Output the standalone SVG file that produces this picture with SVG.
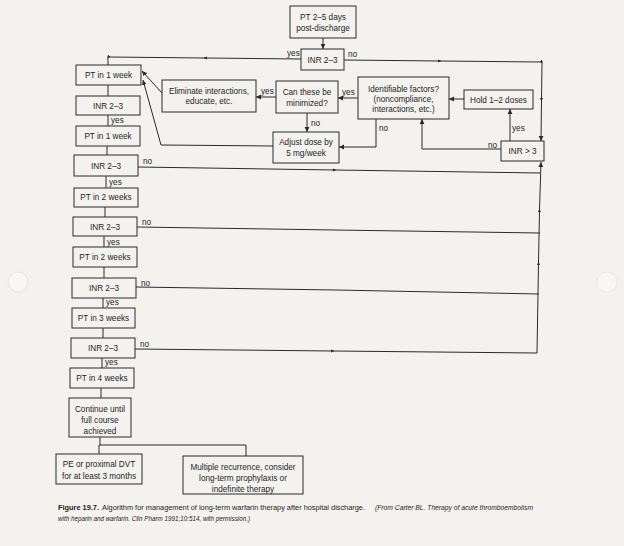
<svg xmlns="http://www.w3.org/2000/svg" width="624" height="546" viewBox="0 0 624 546">
<defs>
<marker id="ah" markerWidth="6" markerHeight="6" refX="5" refY="3" orient="auto" markerUnits="userSpaceOnUse"><path d="M0,0.6 L5,3 L0,5.4 z" fill="#2a2a2a"/></marker>
<marker id="mid" markerWidth="4" markerHeight="4" refX="2" refY="2" orient="auto" markerUnits="userSpaceOnUse"><path d="M0,0.5 L3.5,2 L0,3.5 z" fill="#2a2a2a"/></marker>
<style>
.b{fill:#f3f2ef;stroke:#2a2a2a;stroke-width:1}
.t{font-family:"Liberation Sans",Arial,sans-serif;font-size:8.2px;fill:#1e1e1e;text-anchor:middle}
.l{font-family:"Liberation Sans",Arial,sans-serif;font-size:8.2px;fill:#1e1e1e}
.c{fill:none;stroke:#2a2a2a;stroke-width:1}
.a{marker-end:url(#ah)}
.m{marker-mid:url(#mid)}
.cap{font-family:"Liberation Sans",Arial,sans-serif;font-size:6.4px;fill:#222}
</style>
</defs>
<rect width="624" height="546" fill="#f3f2ef"/>
<circle cx="18" cy="282" r="10" fill="#f8f7f5" stroke="#e2dfdc" stroke-width="0.8"/>
<circle cx="607" cy="282" r="10" fill="#f8f7f5" stroke="#e6e3e0" stroke-width="0.8"/>

<g id="connectors">
<path class="c a" d="M323,38 V49"/>
<path class="c m" d="M301,59 L205,58 L108,57 V65"/>
<path class="c a m" d="M344,60 L440,61 L542,62 L541.5,100 L541,141"/>
<path class="c" d="M108,85 V96"/>
<path class="c" d="M108,115 V126"/>
<path class="c" d="M107,146 V155"/>
<path class="c m" d="M138,167 L335,170 L540,173"/>
<path class="c" d="M106,176 V188"/>
<path class="c" d="M105,207 V217"/>
<path class="c" d="M137,227 L335,230 L540,233"/>
<path class="c" d="M104,236 V247"/>
<path class="c" d="M104,267 V278"/>
<path class="c" d="M136,287 L335,290 L539,294"/>
<path class="c" d="M103,298 V308"/>
<path class="c" d="M103,328 V338"/>
<path class="c m" d="M135,349 L333,351 L537,353"/>
<path class="c a m" d="M537,353 L538.5,263 L539.5,210 L541,162"/>
<path class="c" d="M102,358 V368"/>
<path class="c" d="M101,388 V398"/>
<path class="c" d="M100,437 V445 M99,445 H246 M99,445 V454 M246,445 V456"/>
<path class="c a" d="M162,93 L142,71"/>
<path class="c a" d="M273,146 L161,145 L143,80"/>
<path class="c a" d="M276,97 H256"/>
<path class="c a" d="M358,98 H338"/>
<path class="c a" d="M307,113 V132"/>
<path class="c a" d="M376,119 V147 H339"/>
<path class="c a" d="M464,99 H449"/>
<path class="c a" d="M510,141 V109"/>
<path class="c a" d="M501,149 H422 V119"/>
<text class="l" x="287" y="56">yes</text>
<text class="l" x="348" y="57">no</text>
<text class="l" x="111" y="123">yes</text>
<text class="l" x="143" y="164">no</text>
<text class="l" x="109" y="185">yes</text>
<text class="l" x="142" y="225">no</text>
<text class="l" x="107" y="245">yes</text>
<text class="l" x="141" y="286">no</text>
<text class="l" x="106" y="305">yes</text>
<text class="l" x="140" y="347">no</text>
<text class="l" x="105" y="365">yes</text>
<text class="l" x="261" y="94">yes</text>
<text class="l" x="342" y="95">yes</text>
<text class="l" x="311" y="126">no</text>
<text class="l" x="379" y="131">no</text>
<text class="l" x="512" y="131">yes</text>
<text class="l" x="488" y="148">no</text>
</g>

<g id="n_start"><rect class="b" x="290" y="6" width="66" height="32"/><text class="t" x="323" y="20">PT 2–5 days</text><text class="t" x="323" y="31">post-discharge</text></g>
<g id="n_inr1"><rect class="b" x="301" y="49" width="43" height="21"/><text class="t" x="322.5" y="63">INR 2–3</text></g>
<g id="n_pt1"><rect class="b" x="76" y="65" width="65" height="20"/><text class="t" x="108.5" y="78">PT in 1 week</text></g>
<g id="n_inr2"><rect class="b" x="76" y="96" width="64" height="19"/><text class="t" x="108" y="109">INR 2–3</text></g>
<g id="n_pt2"><rect class="b" x="76" y="126" width="64" height="20"/><text class="t" x="108" y="139">PT in 1 week</text></g>
<g id="n_inr3"><rect class="b" x="74" y="155" width="64" height="21"/><text class="t" x="106" y="169">INR 2–3</text></g>
<g id="n_pt3"><rect class="b" x="74" y="188" width="64" height="19"/><text class="t" x="106" y="200">PT in 2 weeks</text></g>
<g id="n_inr4"><rect class="b" x="73" y="217" width="64" height="19"/><text class="t" x="105" y="230">INR 2–3</text></g>
<g id="n_pt4"><rect class="b" x="73" y="247" width="64" height="20"/><text class="t" x="105" y="260">PT in 2 weeks</text></g>
<g id="n_inr5"><rect class="b" x="72" y="278" width="64" height="20"/><text class="t" x="104" y="291">INR 2–3</text></g>
<g id="n_pt5"><rect class="b" x="72" y="308" width="63" height="20"/><text class="t" x="103.5" y="321">PT in 3 weeks</text></g>
<g id="n_inr6"><rect class="b" x="71" y="338" width="64" height="20"/><text class="t" x="103" y="351">INR 2–3</text></g>
<g id="n_pt6"><rect class="b" x="70" y="368" width="64" height="20"/><text class="t" x="102" y="381">PT in 4 weeks</text></g>
<g id="n_continue"><rect class="b" x="69" y="398" width="62" height="39"/><text class="t" x="100" y="412">Continue until</text><text class="t" x="100" y="423">full course</text><text class="t" x="100" y="434">achieved</text></g>
<g id="n_pe"><rect class="b" x="56" y="454" width="86" height="30"/><text class="t" x="99" y="467">PE or proximal DVT</text><text class="t" x="99" y="479">for at least 3 months</text></g>
<g id="n_multi"><rect class="b" x="183" y="456" width="120" height="38"/><text class="t" x="243" y="470">Multiple recurrence, consider</text><text class="t" x="243" y="481">long-term prophylaxis or</text><text class="t" x="243" y="492">indefinite therapy</text></g>
<g id="n_elim"><rect class="b" x="162" y="80" width="94" height="32"/><text class="t" x="209" y="94">Eliminate interactions,</text><text class="t" x="209" y="104">educate, etc.</text></g>
<g id="n_can"><rect class="b" x="276" y="81" width="62" height="32"/><text class="t" x="307" y="95">Can these be</text><text class="t" x="307" y="106">minimized?</text></g>
<g id="n_adjust"><rect class="b" x="273" y="132" width="66" height="31"/><text class="t" x="306" y="145">Adjust dose by</text><text class="t" x="306" y="156">5 mg/week</text></g>
<g id="n_ident"><rect class="b" x="358" y="77" width="91" height="42"/><text class="t" x="403.5" y="92">Identifiable factors?</text><text class="t" x="403.5" y="102">(noncompliance,</text><text class="t" x="403.5" y="112">interactions, etc.)</text></g>
<g id="n_hold"><rect class="b" x="464" y="90" width="69" height="19"/><text class="t" x="498.5" y="103">Hold 1–2 doses</text></g>
<g id="n_inr_gt3"><rect class="b" x="501" y="141" width="43" height="20"/><text class="t" x="522.5" y="154">INR &gt; 3</text></g>

<g id="caption">
<text class="cap" x="58" y="510" font-weight="bold" font-size="7px" textLength="41" lengthAdjust="spacingAndGlyphs">Figure 19.7.</text>
<text class="cap" x="102" y="510" textLength="263" lengthAdjust="spacingAndGlyphs">Algorithm for management of long-term warfarin therapy after hospital discharge.</text>
<text class="cap" x="375" y="510" font-style="italic" textLength="158" lengthAdjust="spacingAndGlyphs">(From Carter BL. Therapy of acute thromboembolism</text>
<text class="cap" x="58" y="521" font-style="italic" textLength="192" lengthAdjust="spacingAndGlyphs">with heparin and warfarin. Clin Pharm 1991;10:514, with permission.)</text>
</g>
</svg>
